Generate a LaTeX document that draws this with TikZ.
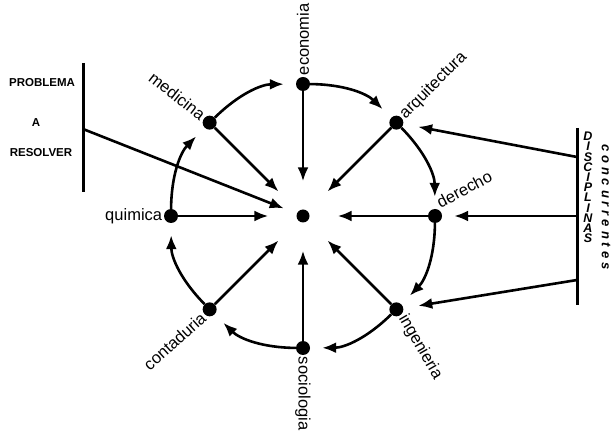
\documentclass[tikz,border=0pt]{standalone}
\usepackage{fontspec}
\setmainfont{Liberation Sans}
\usepackage{tikz}
\usetikzlibrary{arrows.meta, positioning, calc}

\begin{document}
\begin{tikzpicture}[
  x=1pt, y=1pt,
  dot/.style={circle, fill, inner sep=0pt, minimum size=14pt},
  lbl/.style={font=\fontsize{16.5}{18}\selectfont, inner sep=1.5pt},
  capbox/.style={font=\fontsize{11.5}{13}\selectfont\bfseries, inner sep=0pt},
  arrow/.style={-{Latex[length=14pt, width=11pt]}, line width=2.6pt},
  bar/.style={line width=3pt}
]
\useasboundingbox (0,0) rectangle (613,431);
\node[dot, minimum size=13pt] (centro) at (303,215) {};
\node[dot] (econ) at ($(centro)+(90:132pt)$) {};
\node[dot] (arq) at ($(centro)+(45:132pt)$) {};
\node[dot] (der) at ($(centro)+(0:132pt)$) {};
\node[dot] (ing) at ($(centro)+(-45:132pt)$) {};
\node[dot] (soc) at ($(centro)+(-90:132pt)$) {};
\node[dot] (cont) at ($(centro)+(-135:132pt)$) {};
\node[dot] (quim) at ($(centro)+(180:132pt)$) {};
\node[dot] (med) at ($(centro)+(135:132pt)$) {};
\node[lbl, rotate=90, anchor=west] (econ-l) at (econ.north) {economia};
\node[lbl, rotate=45, anchor=west] (arq-l) at (arq.north east) {arquitectura};
\node[lbl, rotate=28, anchor=south west] (der-l) at (der.north east) {derecho};
\node[lbl, rotate=-60, anchor=west] (ing-l) at (ing.south east) {ingenieria};
\node[lbl, rotate=-90, anchor=west] (soc-l) at (soc.south) {sociologia};
\node[lbl, rotate=42, anchor=east] (cont-l) at (cont.south west) {contaduria};
\node[lbl, anchor=east] (quim-l) at (quim.west) {quimica};
\node[lbl, rotate=-38, anchor=east] (med-l) at (med.north west) {medicina};
\coordinate (prob-top) at (83,368);
\coordinate (prob-bot) at (83,239);
\coordinate (prob-out) at (83,302);
\node[capbox] (prob-1) at (42,348) {PROBLEMA};
\node[capbox] (prob-2) at (36,308) {A};
\node[capbox] (prob-3) at (41,278) {RESOLVER};
\coordinate (disc-top) at (577,303);
\coordinate (disc-bot) at (577,126);
\coordinate (disc-a) at (577,274);
\coordinate (disc-d) at (577,215);
\coordinate (disc-i) at (577,151);
\node[font=\fontsize{12.5}{10.2}\selectfont\bfseries\itshape, align=center, inner sep=0pt, anchor=north] (disc-l) at (588,299) {D\\I\\S\\C\\I\\P\\L\\I\\N\\A\\S};
\node[font=\fontsize{13}{14}\selectfont\bfseries\itshape, rotate=-90, anchor=west, inner sep=0pt] (conc-l) at (606,287) {\addfontfeature{LetterSpace=30}concurrentes};
\draw[bar] (prob-top) -- (prob-bot);
\draw[bar] (disc-top) -- (disc-bot);
\draw[arrow, shorten >=12pt] (med) to[bend left=22] (econ);
\draw[arrow, shorten >=12pt] (econ) to[bend left=22] (arq);
\draw[arrow, shorten >=12pt] (arq) to[bend left=22] (der);
\draw[arrow, shorten >=12pt] (der) to[bend left=22] (ing);
\draw[arrow, shorten >=12pt] (ing) to[bend left=22] (soc);
\draw[arrow, shorten >=12pt] (soc) to[bend left=22] (cont);
\draw[arrow, shorten >=12pt] (cont) to[bend left=22] (quim);
\draw[arrow, shorten >=12pt] (quim) to[bend left=22] (med);
\draw[arrow, shorten >=28pt] (econ) -- (centro);
\draw[arrow, shorten >=28pt] (arq) -- (centro);
\draw[arrow, shorten >=28pt] (der) -- (centro);
\draw[arrow, shorten >=28pt] (ing) -- (centro);
\draw[arrow, shorten >=28pt] (soc) -- (centro);
\draw[arrow, shorten >=28pt] (cont) -- (centro);
\draw[arrow, shorten >=28pt] (quim) -- (centro);
\draw[arrow, shorten >=28pt] (med) -- (centro);
\draw[arrow, shorten >=14pt] (prob-out) -- (centro);
\draw[arrow, shorten >=15pt] (disc-a) -- (arq);
\draw[arrow, shorten >=12pt] (disc-d) -- (der);
\draw[arrow, shorten >=15pt] (disc-i) -- (ing);
\end{tikzpicture}
\end{document}
